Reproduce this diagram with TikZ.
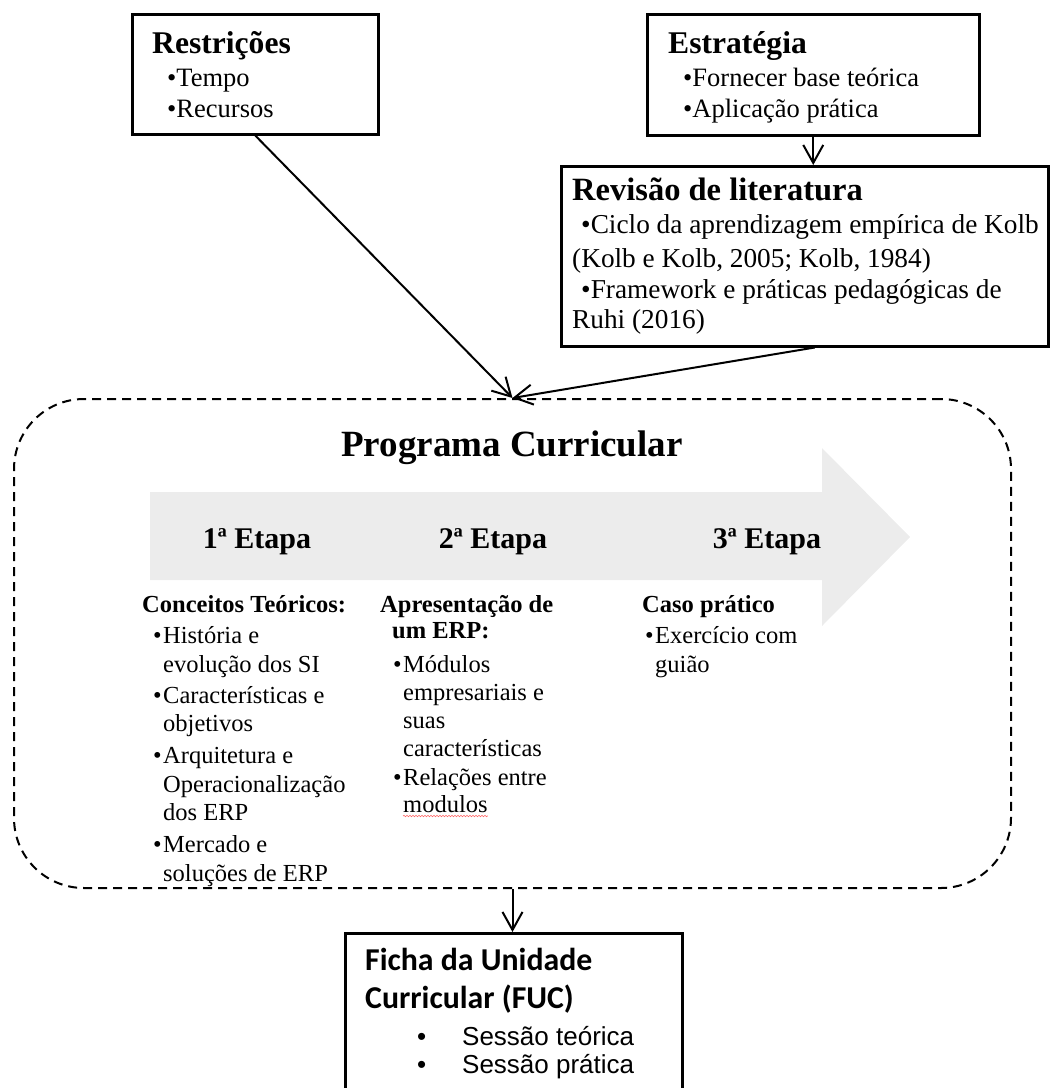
\documentclass[tikz,border=0pt]{standalone}
\usepackage{fontspec}
\setmainfont{Liberation Serif}
\newfontfamily\arialfont{Liberation Sans}
\newfontfamily\calibrifont{Carlito}
\usetikzlibrary{arrows.meta,decorations.pathmorphing}

\begin{document}
\begin{tikzpicture}[x=1pt,y=-1pt,
  frame/.style={draw, line width=2.5pt, anchor=north west, inner sep=0pt},
  boxhead/.style={anchor=base west, inner sep=0pt, font=\fontsize{31.6}{31.6}\selectfont\bfseries},
  boxitem/.style={anchor=base west, inner sep=0pt, font=\fontsize{26.5}{26.5}\selectfont},
  revitem/.style={anchor=base west, inner sep=0pt, font=\fontsize{27.3}{27.3}\selectfont},
  stagehead/.style={anchor=base, inner sep=0pt, font=\fontsize{30}{30}\selectfont\bfseries},
  colhead/.style={anchor=base west, inner sep=0pt, font=\fontsize{24.5}{24.5}\selectfont\bfseries},
  colitem/.style={anchor=base west, inner sep=0pt, font=\fontsize{24.5}{24.5}\selectfont},
  fuchead/.style={anchor=base west, inner sep=0pt, font=\calibrifont\fontsize{31.8}{31.8}\selectfont\bfseries},
  fucitem/.style={anchor=base west, inner sep=0pt, font=\arialfont\fontsize{26}{26}\selectfont},
  link/.style={line width=2pt, -{Straight Barb[length=18pt,width=20pt,line width=2pt]}},
]
\useasboundingbox (0,0) rectangle (1052,1088);

% ---- boxes ----
\node[frame, minimum width=246pt, minimum height=120pt] (restr) at (131,13) {};
\node[frame, minimum width=332pt, minimum height=121pt] (strat) at (646,13) {};
\node[frame, minimum width=487pt, minimum height=180pt] (rev) at (560,165) {};
\node[draw, dashed, dash pattern=on 9pt off 6pt, line width=2pt, rounded corners=70pt,
      anchor=north west, inner sep=0pt, minimum width=997pt, minimum height=489pt] (prog) at (13,398) {};
\node[frame, minimum width=337pt, minimum height=200pt] (fuc) at (344,932) {};

% ---- stage arrow ----
\fill[gray!15] (150,492) -- (822,492) -- (822,448) -- (910,537) -- (822,626)
  -- (822,580) -- (150,580) -- cycle;

% ---- Restrições ----
\node[boxhead] (restrT) at (152,53) {Restrições};
\node[boxitem] (restrA) at (167,86) {•Tempo};
\node[boxitem] (restrB) at (167,117) {•Recursos};

% ---- Estratégia ----
\node[boxhead] (stratT) at (668,53) {Estratégia};
\node[boxitem] (stratA) at (683,86) {•Fornecer base teórica};
\node[boxitem] (stratB) at (683,117) {•Aplicação prática};

% ---- Revisão de literatura ----
\node[boxhead, font=\fontsize{32.5}{32.5}\selectfont\bfseries] (revT) at (572,200) {Revisão de literatura};
\node[revitem] (revA) at (581,233) {•Ciclo da aprendizagem empírica de Kolb};
\node[revitem] (revB) at (572,267) {(Kolb e Kolb, 2005; Kolb, 1984)};
\node[revitem] (revC) at (581,298) {•Framework e práticas pedagógicas de};
\node[revitem] (revD) at (572,328) {Ruhi (2016)};

% ---- Programa Curricular ----
\node[stagehead, font=\fontsize{37}{37}\selectfont\bfseries] (progT) at (512,456) {Programa Curricular};
\node[stagehead] (st1) at (257,548) {1ª Etapa};
\node[stagehead] (st2) at (493,548) {2ª Etapa};
\node[stagehead] (st3) at (767,548) {3ª Etapa};

% first stage
\node[colhead] (c1h) at (142,612) {Conceitos Teóricos:};
\node[colitem] (c1a) at (153,643) {\makebox[10pt][l]{•}História e};
\node[colitem] (c1b) at (163,672) {evolução dos SI};
\node[colitem] (c1c) at (153,703) {\makebox[10pt][l]{•}Características e};
\node[colitem] (c1d) at (163,731) {objetivos};
\node[colitem] (c1e) at (153,763) {\makebox[10pt][l]{•}Arquitetura e};
\node[colitem] (c1f) at (163,792) {Operacionalização};
\node[colitem] (c1g) at (163,820) {dos ERP};
\node[colitem] (c1h2) at (153,852) {\makebox[10pt][l]{•}Mercado e};
\node[colitem] (c1i) at (163,881) {soluções de ERP};

% second stage
\node[colhead] (c2h) at (380,612) {Apresentação de};
\node[colhead] (c2h2) at (392,638) {um ERP:};
\node[colitem] (c2a) at (393,672) {\makebox[10pt][l]{•}Módulos};
\node[colitem] (c2b) at (403,700) {empresariais e};
\node[colitem] (c2c) at (403,728) {suas};
\node[colitem] (c2d) at (403,756) {características};
\node[colitem] (c2e) at (393,785) {\makebox[10pt][l]{•}Relações entre};
\node[colitem] (c2f) at (403,812) {modulos};
\draw[red!60, line width=0.6pt, decorate, decoration={snake, amplitude=0.7pt, segment length=3pt}]
  ([yshift=-4pt]c2f.base west) -- ([yshift=-4pt]c2f.base east);

% third stage
\node[colhead] (c3h) at (642,612) {Caso prático};
\node[colitem] (c3a) at (645,643) {\makebox[10pt][l]{•}Exercício com};
\node[colitem] (c3b) at (655,672) {guião};

% ---- Ficha da Unidade Curricular ----
\node[fuchead] (fucT1) at (365,970) {Ficha da Unidade};
\node[fuchead] (fucT2) at (365,1008) {Curricular (FUC)};
\node[fucitem] (fucA) at (417,1045) {\makebox[45pt][l]{•}Sessão teórica};
\node[fucitem] (fucB) at (417,1073) {\makebox[45pt][l]{•}Sessão prática};

% ---- connectors ----
\draw[link] (restr.south) -- (prog.north);
\draw[link] ([xshift=10pt]rev.south) -- (prog.north);
\draw[link] (strat.south) -- (rev.north -| strat.south);
\draw[link] (prog.south) -- (fuc.north -| prog.south);
\end{tikzpicture}
\end{document}
